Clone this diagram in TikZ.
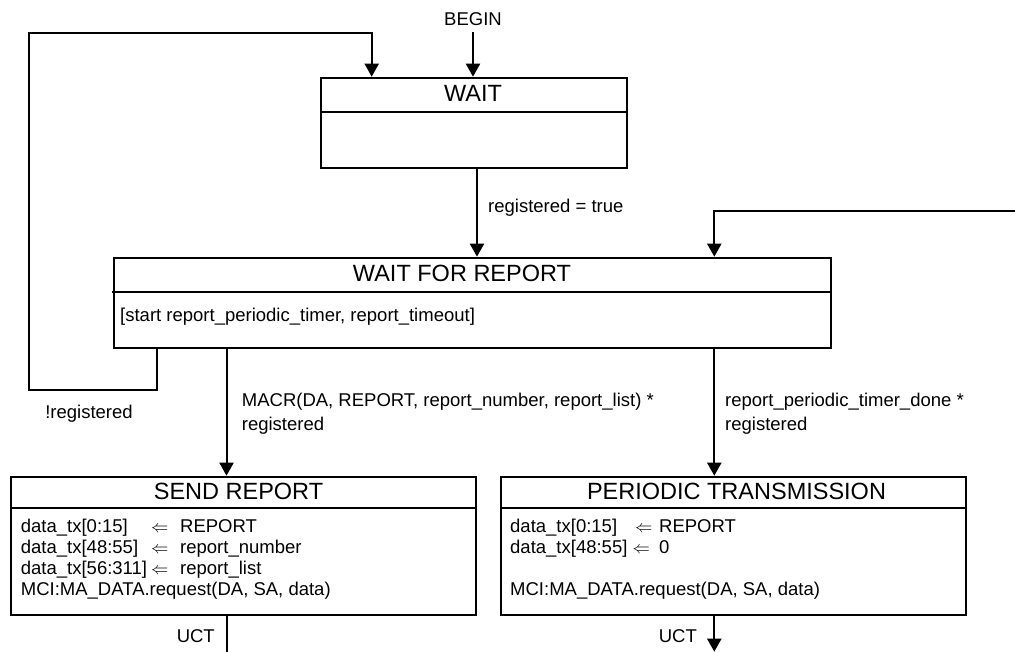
\documentclass[tikz,border=0pt]{standalone}
\usepackage{fontspec}
\setmainfont{Liberation Sans}
\usetikzlibrary{arrows.meta}
\begin{document}
\begin{tikzpicture}[x=1pt,y=-1pt,
  statebox/.style={draw, line width=2pt, rectangle, inner sep=0pt, anchor=north west},
  conn/.style={line width=2pt},
  arr/.style={conn, -{Triangle[width=14pt,length=13pt]}},
  boxtitle/.style={font=\fontsize{23.5}{26}\selectfont, inner sep=0pt, anchor=base},
  body/.style={font=\fontsize{18.5}{21}\selectfont, inner sep=0pt, anchor=base west},
  gets/.style={font=\fontsize{16}{16}\selectfont, inner sep=0pt, anchor=base west},
]
\useasboundingbox (0,0) rectangle (1015,652);

% state boxes
\node[statebox, minimum width=306pt, minimum height=90.6pt] (wait) at (320,76.7) {};
\node[statebox, minimum width=716.7pt, minimum height=90.8pt] (wfr) at (113.3,256.7) {};
\node[statebox, minimum width=465pt, minimum height=138.3pt] (send) at (10,475.7) {};
\node[statebox, minimum width=465pt, minimum height=138.6pt] (ptx) at (500,475.7) {};

% compartment dividers
\draw[conn] ([yshift=-35.3pt]wait.north west) -- ([yshift=-35.3pt]wait.north east);
\draw[conn] ([yshift=-35pt,xshift=-1.5pt]wfr.north west) -- ([yshift=-35pt]wfr.north east);
\draw[conn] ([yshift=-32pt]send.north west) -- ([yshift=-32pt]send.north east);
\draw[conn] ([yshift=-32pt]ptx.north west) -- ([yshift=-32pt]ptx.north east);

% state names
\node[boxtitle] (waitT) at (473,101.7) {WAIT};
\node[boxtitle] (wfrT) at (462,281.7) {WAIT FOR REPORT};
\node[boxtitle] (sendT) at (238.5,499.5) {SEND REPORT};
\node[boxtitle] (ptxT) at (736.5,499.5) {PERIODIC TRANSMISSION};

% state actions
\node[body] (wfrA) at (120,322) {[start report\_periodic\_timer, report\_timeout]};

\node[body] (sendL1) at (20.7,532) {data\_tx[0:15]};
\node[gets] (sendG1) at (151,532) {$\Leftarrow$};
\node[body] (sendR1) at (180,532) {REPORT};
\node[body] (sendL2) at (20.7,553) {data\_tx[48:55]};
\node[gets] (sendG2) at (151,553) {$\Leftarrow$};
\node[body] (sendR2) at (180,553) {report\_number};
\node[body] (sendL3) at (20.7,574) {data\_tx[56:311]};
\node[gets] (sendG3) at (151,574) {$\Leftarrow$};
\node[body] (sendR3) at (180,574) {report\_list};
\node[body] (sendL4) at (20.7,595) {MCI:MA\_DATA.request(DA, SA, data)};

\node[body] (ptxL1) at (510,532) {data\_tx[0:15]};
\node[gets] (ptxG1) at (635,532) {$\Leftarrow$};
\node[body] (ptxR1) at (659,532) {REPORT};
\node[body] (ptxL2) at (510,553) {data\_tx[48:55]};
\node[gets] (ptxG2) at (632.5,553) {$\Leftarrow$};
\node[body] (ptxR2) at (659,553) {0};
\node[body] (ptxL4) at (510,595) {MCI:MA\_DATA.request(DA, SA, data)};

% transition labels
\node[body, anchor=base] (beginL) at (473,26) {BEGIN};
\node[body] (lblTrue) at (488,213) {registered = true};
\node[body, anchor=base] (lblNotReg) at (89,418) {!registered};
\node[body] (lblMacr1) at (241.7,406.7) {MACR(DA, REPORT, report\_number, report\_list) *};
\node[body] (lblMacr2) at (241.7,430) {registered};
\node[body] (lblPer1) at (725,406.7) {report\_periodic\_timer\_done *};
\node[body] (lblPer2) at (725,430) {registered};
\node[body, anchor=base east] (uctSend) at (215,642) {UCT};
\node[body, anchor=base east] (uctPtx) at (697,642) {UCT};

% connector reference points
\coordinate (beginTop) at (473,32.3);
\coordinate (xWait) at (477,0);
\coordinate (xLoop) at (156.7,0);
\coordinate (loopA) at (29,390);
\coordinate (loopB) at (371.7,33.3);
\coordinate (rightIn) at (1015,211);
\coordinate (xRight) at (714.3,0);
\coordinate (xMacr) at (226.5,0);
\coordinate (sendOut) at (226.5,652);
\coordinate (ptxOut) at (714.3,651.7);

% transitions
\draw[arr] (beginTop) -- (wait.north -| beginTop);
\draw[arr] (wait.south -| xWait) -- (wfr.north -| xWait);
\draw[arr] (wfr.south -| xLoop) |- (loopA) |- (loopB) -- (wait.north -| loopB);
\draw[arr] (rightIn) -| (wfr.north -| xRight);
\draw[arr] (wfr.south -| xMacr) -- (send.north -| xMacr);
\draw[arr] (wfr.south -| xRight) -- (ptx.north -| xRight);
\draw[conn] (send.south -| xMacr) -- (sendOut);
\draw[arr] (ptx.south -| xRight) -- (ptxOut);
\end{tikzpicture}
\end{document}
